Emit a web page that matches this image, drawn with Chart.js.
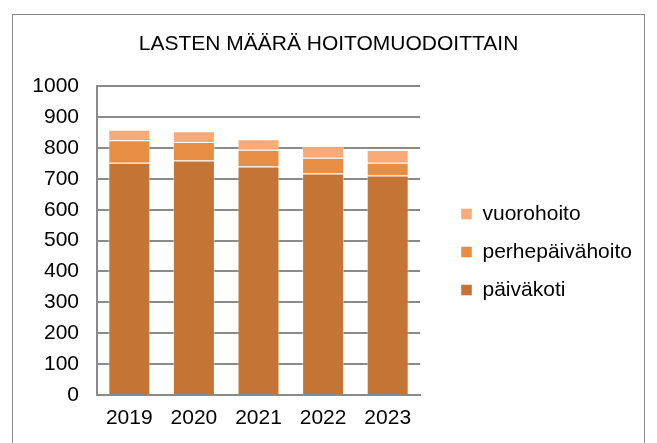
<!DOCTYPE html>
<html>
<head>
<meta charset="utf-8">
<script src="https://cdn.jsdelivr.net/npm/chart.js@4/dist/chart.umd.min.js"></script>
<style>
    body { margin: 0; background: #fff; }
    #box {
        position: absolute; left: 12px; top: 14px;
        width: 631px; height: 440px;
        border: 1px solid #8a8a8a;
    }
    #wrap { position: relative; width: 631px; height: 428px; }
</style>
</head>
<body>
<div id="box"><div id="wrap"><canvas id="bar-chart"></canvas></div></div>
<script>
// data
var years = ["2019", "2020", "2021", "2022", "2023"];
var paivakoti = [752, 759, 740, 717, 711];
var perhepaivahoito = [73, 60, 54, 51, 41];
var vuorohoito = [34, 35, 34, 37, 41];

var FONT = 'Liberation Sans';

// legend gets a fixed width so the plot ends where it should,
// and is nudged down a bit after layout
var legendPlace = {
    id: 'legendPlace',
    beforeLayout: function (chart) {
        var lg = chart.legend;
        if (lg && !lg._fixed) {
            var fit = lg.fit;
            lg.fit = function () {
                fit.call(this);
                this.width = 200;
            };
            lg._fixed = true;
        }
    },
    afterLayout: function (chart) {
        var lg = chart.legend;
        if (lg) {
            lg.top += 23;
            lg.bottom += 23;
        }
    }
};

var ctx = document.getElementById("bar-chart");
var barChart = new Chart(ctx, {
    type: 'bar',
    data: {
        labels: years,
        datasets: [{
            label: 'päiväkoti',
            data: paivakoti,
            backgroundColor: '#c47536',
            borderColor: 'rgba(255,255,255,0.45)',
            borderWidth: 1
        }, {
            label: 'perhepäivähoito',
            data: perhepaivahoito,
            backgroundColor: '#e88d44',
            borderColor: 'rgba(255,255,255,0.45)',
            borderWidth: 1
        }, {
            label: 'vuorohoito',
            data: vuorohoito,
            backgroundColor: '#f8aa78',
            borderColor: 'rgba(255,255,255,0.45)',
            borderWidth: 1
        }]
    },
    options: {
        responsive: true,
        maintainAspectRatio: false,
        animation: false,
        layout: { padding: 0 },
        datasets: { bar: { barPercentage: 0.65, categoryPercentage: 1 } },
        plugins: {
            title: {
                display: true,
                text: 'LASTEN MÄÄRÄ HOITOMUODOITTAIN',
                color: '#000',
                font: { family: FONT, size: 21, weight: 'normal' },
                padding: { top: 17, bottom: 29 }
            },
            legend: {
                position: 'right',
                reverse: true,
                labels: {
                    color: '#000',
                    font: { family: FONT, size: 21 },
                    boxWidth: 11,
                    boxHeight: 11,
                    padding: 17
                }
            },
            tooltip: { enabled: false }
        },
        scales: {
            x: {
                stacked: true,
                grid: { display: false, drawTicks: false },
                border: { color: '#8a8a8a', width: 2 },
                ticks: { color: '#000', font: { family: FONT, size: 21 }, padding: 11 },
                afterFit: function (scale) { scale.height = 48; }
            },
            y: {
                stacked: true,
                min: 0,
                max: 1000,
                grid: { color: '#8a8a8a', lineWidth: 2, drawTicks: false },
                border: { color: '#8a8a8a', width: 2 },
                ticks: {
                    stepSize: 100,
                    color: '#000',
                    font: { family: FONT, size: 21 },
                    padding: 18,
                    callback: function (v) { return String(v); }
                },
                afterFit: function (scale) { scale.width = 84; }
            },
            gap: {
                position: 'right',
                display: true,
                grid: { display: false, drawTicks: false },
                border: { display: false },
                ticks: { display: false },
                afterFit: function (scale) { scale.width = 24; }
            }
        }
    },
    plugins: [legendPlace]
});
</script>
</body>
</html>
